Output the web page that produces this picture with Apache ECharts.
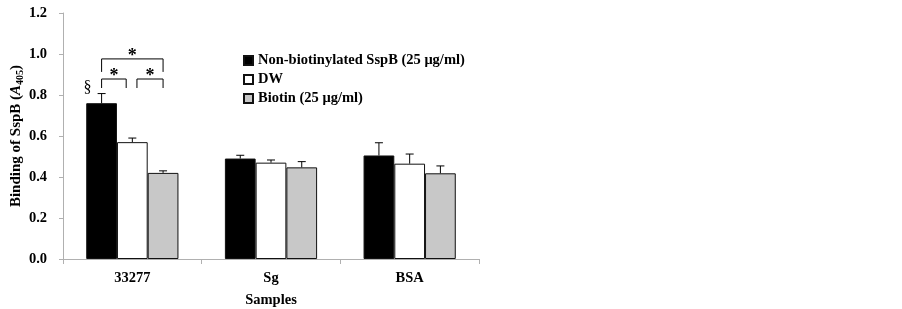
<!DOCTYPE html>
<html>
<head>
<meta charset="utf-8">
<script src="https://cdn.jsdelivr.net/npm/echarts@6/dist/echarts.min.js"></script>
<style>
  html, body { margin: 0; padding: 0; background: #fff; }
  #chart { width: 902px; height: 309px; }
</style>
</head>
<body>
<div id="chart"></div>
<script>
// binding of SspB, grouped bars with error bars
var categories = ['33277', 'Sg', 'BSA'];
var seriesNames = ['Non-biotinylated SspB (25 μg/ml)', 'DW', 'Biotin (25 μg/ml)'];
var nonBiotin = [0.76, 0.49, 0.505];
var dw = [0.57, 0.47, 0.465];
var biotin = [0.42, 0.447, 0.418];
var nonBiotinErr = [0.047, 0.016, 0.062];
var dwErr = [0.02, 0.013, 0.047];
var biotinErr = [0.01, 0.028, 0.036];
var yTicks = [0, 0.2, 0.4, 0.6, 0.8, 1.0, 1.2];
// significance brackets: [category, from bar, to bar, height]
var brackets = [
  [0, 0, 0.8, 0.878],
  [0, 1.15, 2, 0.878],
  [0, 0, 2, 0.976]
];

var serif = '"Liberation Serif", "Times New Roman", serif';
var colors = ['#000000', '#ffffff', '#c8c8c8'];
var values = [nonBiotin, dw, biotin];
var errs = [nonBiotinErr, dwErr, biotinErr];
var catGap = 0.335;
var barFrac = (1 - catGap) / 3;
var fs = 14.5;

var chart = echarts.init(document.getElementById('chart'));

var series = [];
seriesNames.forEach(function (name, i) {
  series.push({
    name: name,
    type: 'bar',
    data: values[i],
    barGap: '0%',
    barCategoryGap: (catGap * 100) + '%',
    itemStyle: { color: colors[i], borderColor: '#111', borderWidth: 1 },
    z: 2
  });
});

// error bars (upper only)
var errData = [];
values.forEach(function (vals, s) {
  vals.forEach(function (v, c) {
    errData.push([c, v, v + errs[s][c], s]);
  });
});
series.push({
  type: 'custom',
  data: errData,
  silent: true,
  z: 3,
  renderItem: function (params, api) {
    var c = api.value(0), s = api.value(3);
    var w = api.size([1, 0])[0];
    var base = api.coord([c, api.value(1)]);
    var top = api.coord([c, api.value(2)]);
    var x = base[0] + (s - 1) * w * barFrac;
    var cap = 4;
    return {
      type: 'group',
      children: [
        { type: 'line', shape: { x1: x, y1: base[1], x2: x, y2: top[1] }, style: { stroke: '#000', lineWidth: 1 } },
        { type: 'line', shape: { x1: x - cap, y1: top[1], x2: x + cap, y2: top[1] }, style: { stroke: '#000', lineWidth: 1 } }
      ]
    };
  }
});

// significance brackets with stars, plus the § mark
series.push({
  type: 'custom',
  data: brackets,
  silent: true,
  z: 3,
  renderItem: function (params, api) {
    var c = api.value(0);
    var w = api.size([1, 0])[0] * barFrac;
    var p = api.coord([c, api.value(3)]);
    var x1 = p[0] + (api.value(1) - 1) * w;
    var x2 = p[0] + (api.value(2) - 1) * w;
    var y = p[1];
    var leg = params.dataIndex === 2 ? 13 : 9;
    var children = [
      { type: 'polyline', shape: { points: [[x1, y + leg], [x1, y], [x2, y], [x2, y + leg]] }, style: { stroke: '#000', lineWidth: 1, fill: null } },
      { type: 'text', x: (x1 + x2) / 2, y: y + 6, style: { text: '*', font: 'bold 18px ' + serif, fill: '#000', align: 'center', verticalAlign: 'bottom' } }
    ];
    if (params.dataIndex === 0) {
      var b = api.coord([c, nonBiotin[0] + nonBiotinErr[0]]);
      children.push({ type: 'text', x: p[0] - w - 14, y: b[1] - 6, style: { text: '§', font: '16px ' + serif, fill: '#000', align: 'center', verticalAlign: 'middle' } });
    }
    return { type: 'group', children: children };
  }
});

var option = {
  animation: false,
  backgroundColor: '#fff',
  textStyle: { fontFamily: serif },
  grid: { left: 63, right: 423, top: 13, bottom: 50, containLabel: false, outerBoundsMode: 'none' },
  legend: {
    orient: 'vertical',
    left: 238,
    top: 48,
    itemWidth: 9,
    itemHeight: 9,
    itemGap: 4,
    icon: 'rect',
    data: seriesNames,
    textStyle: { fontFamily: serif, fontWeight: 'bold', fontSize: fs, lineHeight: 14, color: '#000' }
  },
  xAxis: {
    type: 'category',
    data: categories,
    name: 'Samples',
    nameLocation: 'middle',
    nameGap: 34,
    nameTextStyle: { fontFamily: serif, fontWeight: 'bold', fontSize: fs, color: '#000' },
    axisLine: { lineStyle: { color: '#b0b0b0' } },
    axisTick: { show: true, length: 5, lineStyle: { color: '#b0b0b0' } },
    axisLabel: { fontFamily: serif, fontWeight: 'bold', fontSize: fs, color: '#000', margin: 12 }
  },
  yAxis: {
    type: 'value',
    min: 0,
    max: 1.2,
    interval: 0.2,
    name: 'Binding of SspB ({i|A}{sub|405})',
    nameLocation: 'middle',
    nameGap: 31,
    nameRotate: 90,
    nameTextStyle: {
      fontFamily: serif, fontWeight: 'bold', fontSize: 15, color: '#000',
      rich: {
        i: { fontFamily: serif, fontWeight: 'bold', fontStyle: 'italic', fontSize: 15, color: '#000' },
        sub: { fontFamily: serif, fontWeight: 'bold', fontSize: 10, color: '#000', padding: [7, 0, 0, 0] }
      }
    },
    axisLine: { show: true, lineStyle: { color: '#b0b0b0' } },
    axisTick: { show: true, length: 4, lineStyle: { color: '#b0b0b0' } },
    splitLine: { show: false },
    axisLabel: {
      fontFamily: serif, fontWeight: 'bold', fontSize: fs, color: '#000', margin: 16,
      formatter: function (v) { return yTicks.indexOf(Math.round(v * 10) / 10) >= 0 ? v.toFixed(1) : ''; }
    }
  },
  series: series
};

chart.setOption(option);
</script>
</body>
</html>
